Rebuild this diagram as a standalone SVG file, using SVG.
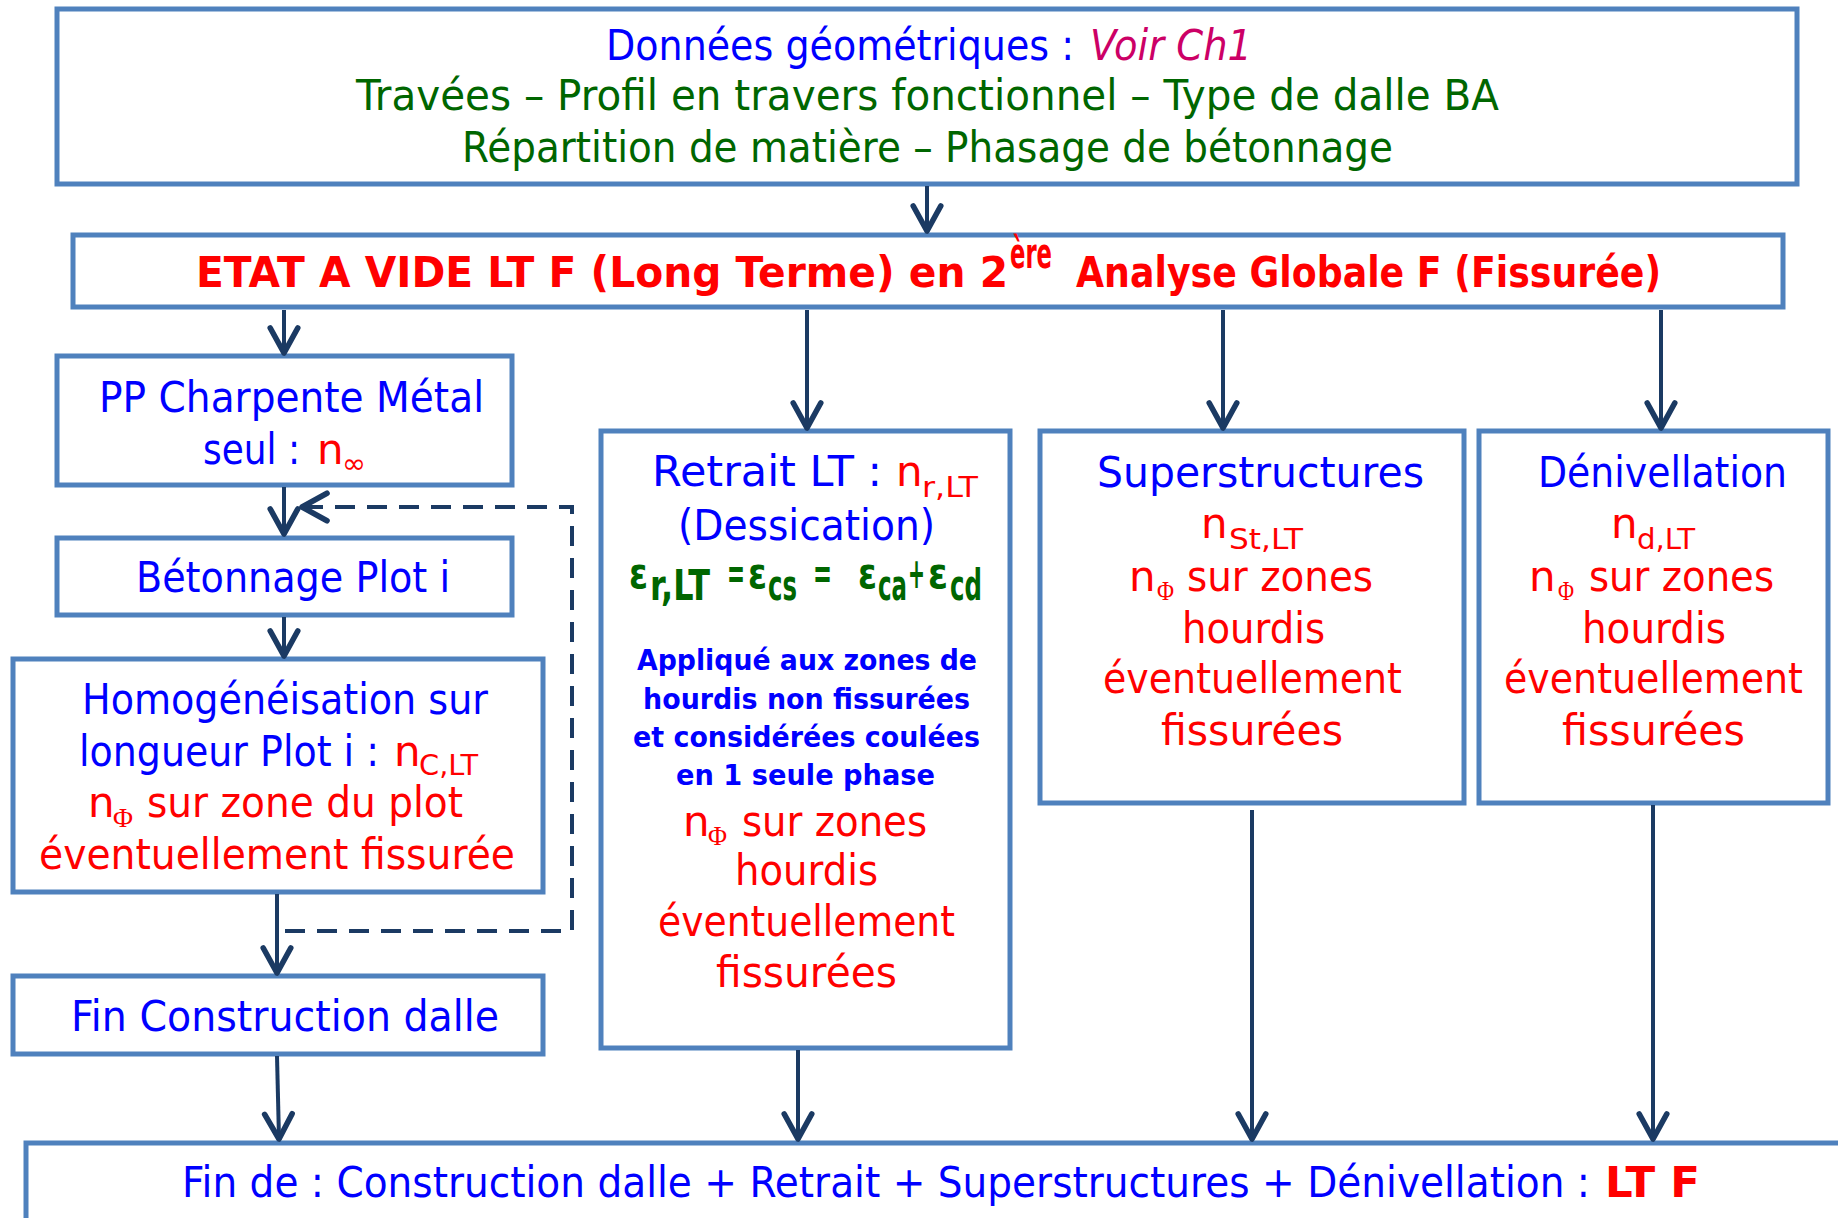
<svg xmlns="http://www.w3.org/2000/svg" width="1838" height="1218" viewBox="0 0 1838 1218">
<style>
text{font-family:"DejaVu Sans","Liberation Sans",sans-serif;font-size:42px}
.b{fill:#0000FF}.r{fill:#FF0000}.g{fill:#006600}.m{fill:#CC0066}
.bd{font-weight:bold}
.sub{font-size:28px}
.phi{font-family:"Liberation Serif","DejaVu Serif",serif;font-size:27px}
.sm{font-size:29px;font-weight:bold}
.box{fill:#FFFFFF;stroke:#4F81BD;stroke-width:5}
.conn{fill:none;stroke:#1B3A63;stroke-width:4}
.dash{stroke-dasharray:20 12}
</style>
<defs>
<marker id="ah" markerUnits="userSpaceOnUse" markerWidth="40" markerHeight="40" viewBox="-26 -16 32 32" refX="0" refY="0" orient="auto" overflow="visible">
<path d="M-20,-11 L0,0 L-20,11" fill="none" stroke="#1B3A63" stroke-width="4.5" stroke-linejoin="round" stroke-linecap="round" stroke-dasharray="none"/>
</marker>
</defs>
<rect width="1838" height="1218" fill="#FFFFFF"/>

<g id="n_donnees">
<rect class="box" x="57" y="9" width="1740" height="175"/>
<text class="b" x="606" y="60" textLength="468" lengthAdjust="spacingAndGlyphs">Données géométriques :</text>
<text class="m" x="1090" y="60" textLength="162" lengthAdjust="spacingAndGlyphs" font-style="italic">Voir Ch1</text>
<text class="g" x="356" y="110" textLength="1143" lengthAdjust="spacingAndGlyphs">Travées – Profil en travers fonctionnel – Type de dalle BA</text>
<text class="g" x="462" y="162" textLength="931" lengthAdjust="spacingAndGlyphs">Répartition de matière – Phasage de bétonnage</text>
</g>

<g id="n_etat">
<rect class="box" x="73" y="235" width="1710" height="72"/>
<text class="r bd" x="196" y="287" font-size="43" textLength="812" lengthAdjust="spacingAndGlyphs">ETAT A VIDE LT F (Long Terme) en 2</text>
<text class="r bd" x="1010" y="268" font-size="20" textLength="42" lengthAdjust="spacingAndGlyphs">ère</text>
<text class="r bd" x="1076" y="287" font-size="43" textLength="585" lengthAdjust="spacingAndGlyphs">Analyse Globale F (Fissurée)</text>
</g>

<g id="n_pp">
<rect class="box" x="57" y="356" width="455" height="129"/>
<text class="b" x="99" y="412" textLength="385" lengthAdjust="spacingAndGlyphs">PP Charpente Métal</text>
<text class="b" x="203" y="464" textLength="97" lengthAdjust="spacingAndGlyphs">seul :</text>
<text class="r" x="317" y="464">n</text>
<text class="r sub" x="342" y="473" textLength="24" lengthAdjust="spacingAndGlyphs">∞</text>
</g>

<g id="n_beton">
<rect class="box" x="57" y="538" width="455" height="77"/>
<text class="b" x="136" y="592" textLength="314" lengthAdjust="spacingAndGlyphs">Bétonnage Plot i</text>
</g>

<g id="n_homog">
<rect class="box" x="13" y="659" width="530" height="233"/>
<text class="b" x="82" y="714" textLength="406" lengthAdjust="spacingAndGlyphs">Homogénéisation sur</text>
<text class="b" x="79" y="766" textLength="300" lengthAdjust="spacingAndGlyphs">longueur Plot i :</text>
<text class="r" x="394" y="766">n</text>
<text class="r sub" x="419" y="775" textLength="59" lengthAdjust="spacingAndGlyphs">C,LT</text>
<text class="r" x="88" y="817">n</text>
<text class="r phi" x="113" y="827" textLength="20" lengthAdjust="spacingAndGlyphs">Φ</text>
<text class="r" x="147" y="817" textLength="316" lengthAdjust="spacingAndGlyphs">sur zone du plot</text>
<text class="r" x="39" y="869" textLength="476" lengthAdjust="spacingAndGlyphs">éventuellement fissurée</text>
</g>

<g id="n_fin">
<rect class="box" x="13" y="976" width="530" height="78"/>
<text class="b" x="71" y="1031" textLength="428" lengthAdjust="spacingAndGlyphs">Fin Construction dalle</text>
</g>

<g id="n_retrait">
<rect class="box" x="601" y="431" width="409" height="617"/>
<text class="b" x="652" y="486" textLength="230" lengthAdjust="spacingAndGlyphs">Retrait LT :</text>
<text class="r" x="896" y="486">n</text>
<text class="r sub" x="922" y="497" textLength="56" lengthAdjust="spacingAndGlyphs">r,LT</text>
<text class="b" x="678" y="540" textLength="257" lengthAdjust="spacingAndGlyphs">(Dessication)</text>
<g class="g bd">
<text x="629" y="588" font-size="32" textLength="19" lengthAdjust="spacingAndGlyphs">ε</text>
<text x="650" y="600" font-size="20" textLength="60" lengthAdjust="spacingAndGlyphs">r,LT</text>
<text x="727" y="588" font-size="32" textLength="18" lengthAdjust="spacingAndGlyphs">=</text>
<text x="748" y="588" font-size="32" textLength="19" lengthAdjust="spacingAndGlyphs">ε</text>
<text x="768" y="600" font-size="22" textLength="29" lengthAdjust="spacingAndGlyphs">cs</text>
<text x="813" y="588" font-size="32" textLength="19" lengthAdjust="spacingAndGlyphs">=</text>
<text x="858" y="588" font-size="32" textLength="19" lengthAdjust="spacingAndGlyphs">ε</text>
<text x="878" y="600" font-size="22" textLength="29" lengthAdjust="spacingAndGlyphs">ca</text>
<text x="908" y="588" font-size="32" textLength="17" lengthAdjust="spacingAndGlyphs">+</text>
<text x="928" y="588" font-size="32" textLength="20" lengthAdjust="spacingAndGlyphs">ε</text>
<text x="950" y="600" font-size="22" textLength="32" lengthAdjust="spacingAndGlyphs">cd</text>
</g>
<text class="b sm" x="637" y="670" textLength="340" lengthAdjust="spacingAndGlyphs">Appliqué aux zones de</text>
<text class="b sm" x="643" y="709" textLength="327" lengthAdjust="spacingAndGlyphs">hourdis non fissurées</text>
<text class="b sm" x="633" y="747" textLength="347" lengthAdjust="spacingAndGlyphs">et considérées coulées</text>
<text class="b sm" x="676" y="785" textLength="259" lengthAdjust="spacingAndGlyphs">en 1 seule phase</text>
<text class="r" x="683" y="836">n</text>
<text class="r phi" x="708" y="845" textLength="19" lengthAdjust="spacingAndGlyphs">Φ</text>
<text class="r" x="742" y="836" textLength="185" lengthAdjust="spacingAndGlyphs">sur zones</text>
<text class="r" x="735" y="885" textLength="143" lengthAdjust="spacingAndGlyphs">hourdis</text>
<text class="r" x="658" y="936" textLength="297" lengthAdjust="spacingAndGlyphs">éventuellement</text>
<text class="r" x="716" y="987" textLength="181" lengthAdjust="spacingAndGlyphs">fissurées</text>
</g>

<g id="n_super">
<rect class="box" x="1040" y="431" width="424" height="372"/>
<text class="b" x="1097" y="487" textLength="327" lengthAdjust="spacingAndGlyphs">Superstructures</text>
<text class="r" x="1201" y="538">n</text>
<text class="r sub" x="1229" y="549" textLength="74" lengthAdjust="spacingAndGlyphs">St,LT</text>
<text class="r" x="1129" y="591">n</text>
<text class="r phi" x="1157" y="600" textLength="17" lengthAdjust="spacingAndGlyphs">Φ</text>
<text class="r" x="1187" y="591" textLength="186" lengthAdjust="spacingAndGlyphs">sur zones</text>
<text class="r" x="1182" y="643" textLength="143" lengthAdjust="spacingAndGlyphs">hourdis</text>
<text class="r" x="1103" y="693" textLength="299" lengthAdjust="spacingAndGlyphs">éventuellement</text>
<text class="r" x="1161" y="745" textLength="182" lengthAdjust="spacingAndGlyphs">fissurées</text>
</g>

<g id="n_deniv">
<rect class="box" x="1479" y="431" width="349" height="372"/>
<text class="b" x="1538" y="487" textLength="249" lengthAdjust="spacingAndGlyphs">Dénivellation</text>
<text class="r" x="1611" y="538">n</text>
<text class="r sub" x="1637" y="549" textLength="58" lengthAdjust="spacingAndGlyphs">d,LT</text>
<text class="r" x="1529" y="591">n</text>
<text class="r phi" x="1558" y="600" textLength="16" lengthAdjust="spacingAndGlyphs">Φ</text>
<text class="r" x="1589" y="591" textLength="185" lengthAdjust="spacingAndGlyphs">sur zones</text>
<text class="r" x="1582" y="643" textLength="144" lengthAdjust="spacingAndGlyphs">hourdis</text>
<text class="r" x="1504" y="693" textLength="299" lengthAdjust="spacingAndGlyphs">éventuellement</text>
<text class="r" x="1562" y="745" textLength="183" lengthAdjust="spacingAndGlyphs">fissurées</text>
</g>

<g id="n_bottom">
<rect class="box" x="26" y="1143" width="1850" height="120"/>
<text class="b" x="182" y="1197" textLength="1408" lengthAdjust="spacingAndGlyphs">Fin de : Construction dalle + Retrait + Superstructures + Dénivellation :</text>
<text class="r bd" x="1605" y="1197" textLength="95" lengthAdjust="spacingAndGlyphs">LT F</text>
</g>

<g id="connectors">
<path class="conn" d="M927,186 V231" marker-end="url(#ah)"/>
<path class="conn" d="M284,310 V353" marker-end="url(#ah)"/>
<path class="conn" d="M807,310 V428" marker-end="url(#ah)"/>
<path class="conn" d="M1223,310 V428" marker-end="url(#ah)"/>
<path class="conn" d="M1661,310 V428" marker-end="url(#ah)"/>
<path class="conn" d="M284,487 V534" marker-end="url(#ah)"/>
<path class="conn" d="M284,617 V656" marker-end="url(#ah)"/>
<path class="conn" d="M277,894 V973" marker-end="url(#ah)"/>
<path class="conn" d="M277,1056 L279,1139" marker-end="url(#ah)"/>
<path class="conn" d="M798,1050 V1139" marker-end="url(#ah)"/>
<path class="conn" d="M1252,810 V1139" marker-end="url(#ah)"/>
<path class="conn" d="M1653,805 V1139" marker-end="url(#ah)"/>
<path class="conn dash" d="M285,931 H572 V507 H302" marker-end="url(#ah)"/>
</g>
</svg>
